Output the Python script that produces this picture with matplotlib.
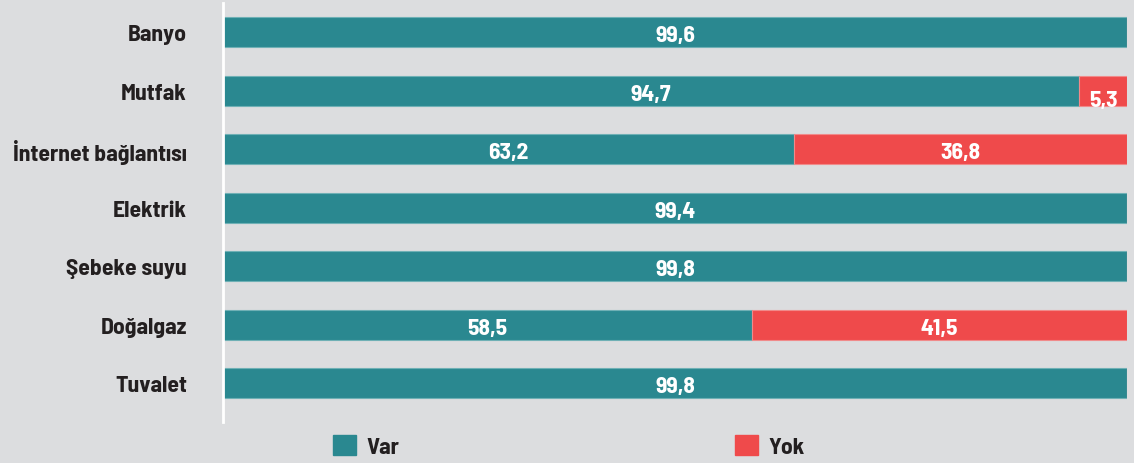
import numpy as np
import matplotlib.pyplot as plt
from matplotlib.patches import Patch

# categories and percentages (Var / Yok)
categories = ["Banyo", "Mutfak", "İnternet bağlantısı", "Elektrik",
              "Şebeke suyu", "Doğalgaz", "Tuvalet"]
var_values = [99.6, 94.7, 63.2, 99.4, 99.8, 58.5, 99.8]
yok_values = [0, 5.3, 36.8, 0, 0, 41.5, 0]

teal = "#2a8890"
red = "#ef4a4b"
bg = "#dcdddf"
dark = "#231f20"

plt.rcParams['font.family'] = ['Barlow Semi Condensed', 'DejaVu Sans']
fs = 17
fw = 700

fig = plt.figure(figsize=(11.34, 4.64), dpi=100, facecolor=bg)
ax = fig.add_axes([223 / 1134, 41 / 464, (1127 - 223) / 1134, 419 / 464])
ax.set_facecolor(bg)

# each bar is drawn as a share of its own total (100% stacked)
total = np.array(var_values) + np.array(yok_values)
var_share = np.array(var_values) / total * 100
yok_share = np.array(yok_values) / total * 100

y = np.arange(len(categories))
h = 0.51
ax.barh(y, var_share, height=h, color=teal, edgecolor="#6fb0b5", linewidth=0.8)
ax.barh(y, yok_share, left=var_share, height=h, color=red, edgecolor="#f08a8a", linewidth=0.8)

# value labels
for i in range(len(categories)):
    ax.text(var_share[i] / 2, y[i] + 0.05, f"{var_values[i]:.1f}".replace(".", ","),
            ha="center", va="center", color="white", fontsize=fs, fontweight=fw)
    if yok_values[i] > 0:
        ypos = y[i] + 0.05
        if yok_values[i] < 10:
            ypos = y[i] + 0.15
        ax.text(var_share[i] + yok_share[i] / 2, ypos, f"{yok_values[i]:.1f}".replace(".", ","),
                ha="center", va="center", color="white", fontsize=fs, fontweight=fw)

ax.set_xlim(0, 100)
ax.set_ylim(6.66, -0.5)
ax.set_yticks(y)
ax.set_yticklabels(categories, fontsize=fs, fontweight=fw, color=dark)
ax.tick_params(axis="y", length=0, pad=26)
ax.set_xticks([])
for s in ["top", "right", "bottom"]:
    ax.spines[s].set_visible(False)
ax.spines["left"].set_color("white")
ax.spines["left"].set_linewidth(2)

handles = [Patch(color=teal, label="Var"), Patch(color=red, label="Yok")]
leg = fig.legend(handles=handles, loc="center left", bbox_to_anchor=(312 / 1134, 1 - 447 / 464),
                 ncol=2, frameon=False, handlelength=0.97, handleheight=0.97,
                 handletextpad=0.45, columnspacing=14.2,
                 prop={"size": fs, "weight": fw})
for t in leg.get_texts():
    t.set_color(dark)

fig.savefig("out.png", dpi=100, facecolor=bg)
